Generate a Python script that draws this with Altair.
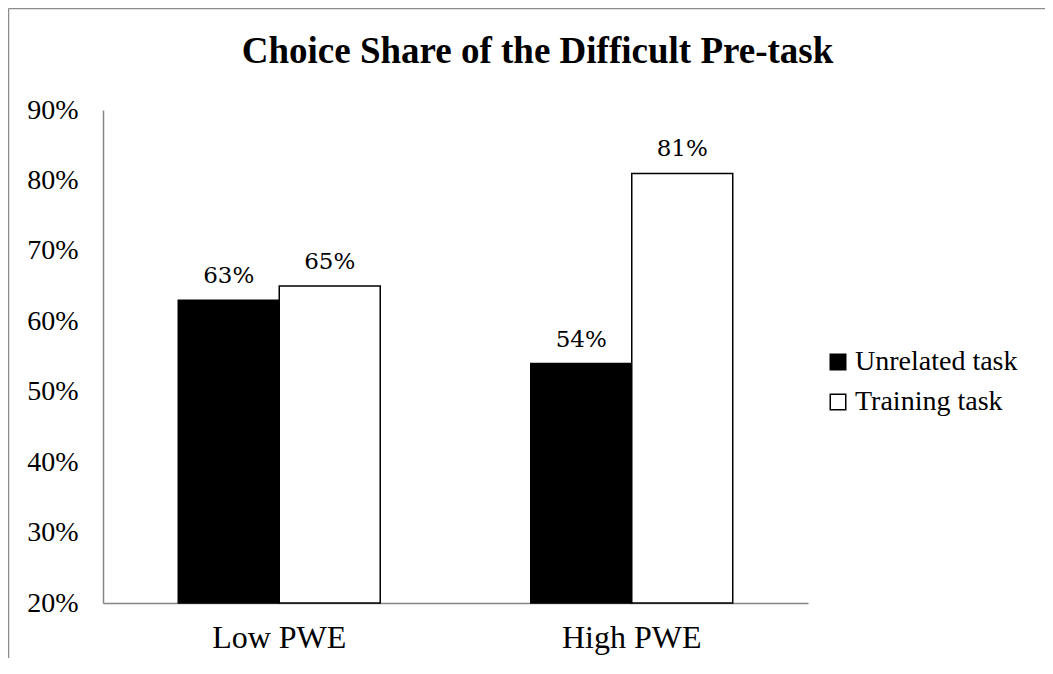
import altair as alt
import pandas as pd

groups = ["Low PWE", "Low PWE", "High PWE", "High PWE"]
tasks = ["Unrelated task", "Training task", "Unrelated task", "Training task"]
values = [0.63, 0.65, 0.54, 0.81]
labels = ["63%", "65%", "54%", "81%"]

df = pd.DataFrame({"group": groups, "task": tasks, "value": values, "label": labels})

group_order = ["Low PWE", "High PWE"]
task_order = ["Unrelated task", "Training task"]

x = alt.X("group:N", sort=group_order, title=None,
          scale=alt.Scale(paddingInner=0.427, paddingOuter=0.2135),
          axis=alt.Axis(labelAngle=0, ticks=False, domainColor="#868686", domainWidth=1.5,
                        labelFont="Liberation Serif", labelFontSize=32, labelColor="black",
                        labelPadding=19))
xo = alt.XOffset("task:N", sort=task_order, scale=alt.Scale(paddingInner=0, paddingOuter=0))
y = alt.Y("value:Q", title=None,
          scale=alt.Scale(domain=[0.2, 0.9], zero=False, nice=False),
          axis=alt.Axis(format=".0%", values=[0.2, 0.3, 0.4, 0.5, 0.6, 0.7, 0.8, 0.9],
                        ticks=False, grid=False, domainColor="#868686", domainWidth=1.5,
                        labelFont="Liberation Serif", labelFontSize=28, labelColor="black",
                        labelPadding=25))

bars = alt.Chart(df).mark_bar(stroke="black", strokeWidth=1.5).encode(
    x=x, xOffset=xo, y=y, y2=alt.datum(0.2),
    fill=alt.Fill("task:N", sort=task_order,
                  scale=alt.Scale(domain=task_order, range=["black", "white"]),
                  legend=alt.Legend(title=None, orient="none", legendX=721, legendY=238,
                                    symbolType="square", symbolSize=240,
                                    symbolStrokeColor="black", symbolStrokeWidth=1.5,
                                    labelFont="Liberation Serif", labelFontSize=28,
                                    labelColor="black", rowPadding=12, padding=0,
                                    labelOffset=3, labelLimit=400)),
)

text = alt.Chart(df).mark_text(font="DejaVu Serif", fontSize=23, color="black",
                               baseline="alphabetic", dy=-17).encode(
    x=alt.X("group:N", sort=group_order), xOffset=xo, y="value:Q", text="label:N"
)

frame_top = alt.Chart(pd.DataFrame({"k": [0]})).mark_rule(color="#8c8c8c", strokeWidth=1.5).encode(
    x=alt.value(-94.5), x2=alt.value(945), y=alt.value(-101.5)
)
frame_left = alt.Chart(pd.DataFrame({"k": [0]})).mark_rule(color="#8c8c8c", strokeWidth=1.5).encode(
    x=alt.value(-94.5), y=alt.value(-101.5), y2=alt.value(560)
)

chart = alt.layer(bars, text, frame_top, frame_left).properties(
    width=705, height=493,
    title=alt.TitleParams("Choice Share of the Difficult Pre-task", font="Liberation Serif",
                          fontSize=37, fontWeight="bold", color="black", anchor="middle",
                          frame="group", dx=82, offset=0, dy=92, baseline="alphabetic"),
    autosize=alt.AutoSizeParams(type="none"),
    padding={"left": 95, "top": 102, "right": 237, "bottom": 55},
    background="white",
).configure_view(stroke="transparent", strokeWidth=0)

chart.save("out.html", embed_options={"renderer": "svg", "actions": False})
